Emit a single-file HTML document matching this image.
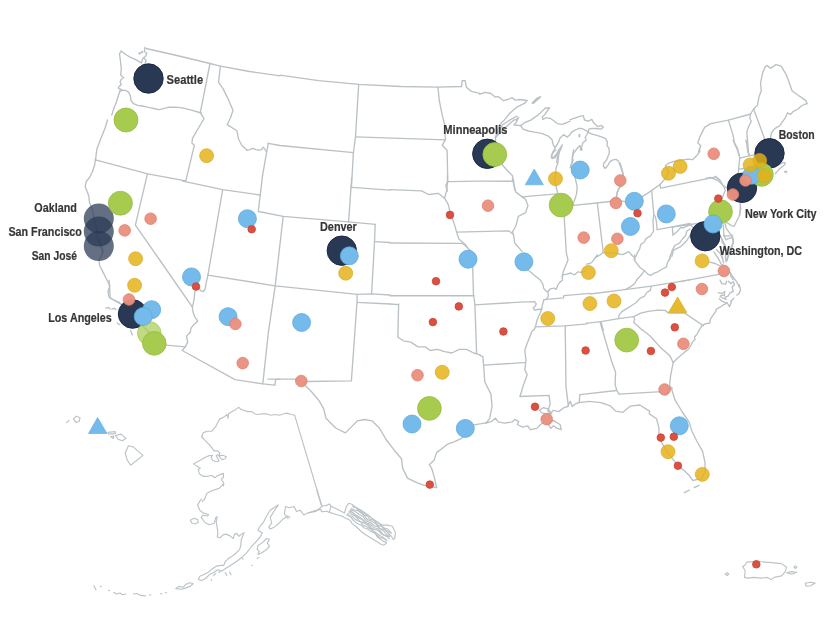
<!DOCTYPE html>
<html lang="en"><head><meta charset="utf-8"><title>City map</title>
<style>
html,body{margin:0;padding:0;background:#fff}
body{width:826px;height:620px;overflow:hidden}
svg{display:block}
.b{fill:none;stroke:#bac1c5;stroke-width:1.35;stroke-linejoin:round;stroke-linecap:round}
.b2{stroke-width:1.15;stroke:#bcc3c6}
.t{font-family:"Liberation Sans",sans-serif;font-weight:700;font-size:13px;fill:#363636;stroke:#363636;stroke-width:.2px;stroke-linejoin:round}
</style></head><body>
<svg width="826" height="620" viewBox="0 0 826 620">
<rect width="826" height="620" fill="#fff"/>
<g class="b">
<path d="M146.1,48.5 176.9,55.5 210,63.5 220.4,66.2 249.5,71.5 280,75.8"/>
<path d="M145,47.3 144.3,51.5 146.8,53.3 145.6,56.3 143.7,57.6 146.2,60.6 145,63.6 145.6,66"/>
<path d="M143.7,57.6 142.5,59.4 141.3,63 139.5,61.8 135.3,59.4 131,57.6 125.6,54.5 121.3,50.9 119.5,53.9 120.1,58.2 120.7,63 121.3,69.1 120.7,75.1 121.9,76.3 123.8,77.5 121.3,79.3 120.1,81.8 121.3,84.8 118.9,86.6 118.3,88.4 121.9,89.6 120.1,90.8"/>
<path d="M138.9,53.3 139.5,52.6 140.2,53.3 139.5,54 138.9,53.3"/>
<path d="M141.3,52.1 141.9,51.5 142.7,52.2 141.9,52.8 141.3,52.1"/>
<path d="M120.1,90.8 125,90.2 128.6,92.1 130.4,95.7 131,100.5 133.5,103.6 137.7,105.4 142.5,106 147.4,107.2 151,107.8 155.8,109 159.5,109.6 164.3,108.4 169.2,107.2 175.2,107.2 182.5,107.8 189.7,109.6 201.2,113"/>
<path d="M120.1,90.8 118.3,95.7 116.5,101.7 114.1,107.8 111.7,115.1"/>
<path d="M107.4,119.9 105.4,127.2 100.6,139.3 96.9,149 95.5,159.9"/>
<path d="M95.4,159.1 94.8,164.5 92.4,171.8 90,176.6 86.3,181.5 85.1,186.3 87,191.2 88.8,196 89.5,202.4 92.3,209.8 94.1,217.3 96,225.6 96.9,232.1 97.8,239.5 100.6,246.9 102.5,250.7 101.5,256.2 98.8,259.9 99.7,265.5 103.4,272.9 107.1,280.3 109.9,285.9 108,291.5 109,297 113.6,299.8 118.2,302.6 121.9,304.5 125.9,313"/>
<path d="M97.8,239.5 100.6,241.4 102.5,248.8 103.4,252.5"/>
<path d="M95.5,159.9 147.8,173.9 185.8,180.9"/>
<path d="M210,63.5 200.3,112.6"/>
<path d="M200.3,112.6 204,118.7 201.1,123.5 192.6,138.1 191.9,142.9 194.3,145.3 185.8,180.9"/>
<path d="M220.4,66.2 218.5,82.4 222.9,88.4 227.7,98.1 233,110.2 230.6,117.5 227.2,124.7 231.3,127.2 236.9,130.8 238.6,139.3 241.7,145.3 247.1,150.2"/>
<path d="M247.1,150.2 250,149.6 252.4,148.4 256.1,149.6 259.7,150.2 261.5,149.6 263.3,147.2 265.1,149.6 266.7,151.8"/>
<path d="M268.2,143.3 266.7,151.8 262.6,175.2"/>
<path d="M280,75.1 318.7,80.7 358.7,84.3 401.1,86.5 437.9,87.2 461.6,86.5 462.1,80.7 465.2,80.7 466.4,87.2 471.3,91.3 480,93.3"/>
<path d="M358.7,84.3 355.5,136.9 353.4,152.6 351.4,187.7"/>
<path d="M268.2,143.3 280,145.5 353.4,152.6"/>
<path d="M355.5,136.9 445.4,139.8"/>
<path d="M437.9,87.2 439.3,100.5 441.7,112.6 444.6,124.7 445.4,139.8 442.2,145.3 447.1,150.2 447.8,181.6 445.9,185.3 447.1,191.3"/>
<path d="M447.8,181.6 480,181.2 512.4,181.2"/>
<path d="M479.6,94.4 484.8,92.3 490.9,93.5 495.1,97.1 498.2,96.5 503.6,100.7 507.8,99.5 512.1,97.7 515.1,100.1 520,99.5 527.2,100.5 524.8,103.2 516.3,107.4 510.3,112.8 504.2,120.1 499.4,125 496.9,133.4 495.4,137.4"/>
<path d="M495.4,137.4 499.4,133.4 504.2,128.6 509.1,124.3 513.9,120.1 516.3,119.5 518.7,117.4 515.7,123.1 513.9,125 520.6,125.6 524.8,122.5 530.8,120.1 536.9,115.9 540.5,112.8 545.4,108 549.6,108 547.2,111 544.2,115.3 542.3,116.5 543,119.5 546,117.7 550.2,118.3 553.8,120.7 557.5,123.7 562.3,124.3 567.2,122.5 570,121.1"/>
<path d="M520.6,125.6 523,129.2 528.4,131 534.5,132.2 541.7,133.4 547.8,135.8 552,139.5 553.2,144.9 554.5,147 555.7,146.7"/>
<path d="M570.3,134.4 567.2,137.1 563.5,134.6 559.9,138.3 558.7,141.9 555.7,146.7 552.6,152.8 551.4,155.8 552.6,158.2 555.1,157.6 558.7,150.4 562.3,144.9 560.5,149.8 557.5,156.4 556.6,162.5"/>
<path d="M556,150 553,152.4 551.2,157.3 552.4,158.5 556,154.8 559.1,150"/>
<path d="M559.1,150 558.5,157.3 557.8,163.3 556,168.2 555.7,174.2 554.8,181.5 556,186.3 557.2,191.2 557.8,194.8 559.1,198.4 565.1,203.3 573,203.9"/>
<path d="M532.1,102.9 536.9,98.3 540.5,96.5 539.9,97.7 536.3,100.7 533.3,103.4 532.1,102.9"/>
<path d="M570,119.7 574.8,118.2 579.7,116.3 583.3,115.7 584.5,120 588.2,121.2 591.8,119.4 594.2,123.6 597.8,126.6 601.5,125.4 603.3,127.2 600.9,129.1 596,128.5 591.8,128.5 588.8,129.1 588.2,132.1 585.7,130.3 582.1,128.5 578.5,128.5 573.6,130.9 570.4,133.4"/>
<path d="M588.2,132.1 586.9,134.5 585.1,137.5 586.3,140 582.7,143 581.5,147.8 582.1,149.9 580.7,150.2 579.9,145.4 576.7,149 573.6,153.3 572.2,158.1 571.8,164.2 570,167.8"/>
<path d="M573.6,150 572.4,156.1 573,160.9 570.6,165.7 572.4,169.4 574.2,174.2 575.4,179.1 577.2,186.3 576.6,193.6 574.8,199.6 573,203.9"/>
<path d="M579,135.1 579.7,134.5 579.9,136.3 579.2,136.9 579,135.1"/>
<path d="M588.2,132.1 591.2,133.9 596,135.1 601.5,136.9 605.7,138.7 607.5,142.4 606.9,145.4 609,148.4 609.3,153.3 607.5,157.5 606.3,160.5 603.9,163 603.3,166 605.1,168.4 607.5,166 610,161.7 613,159.9 616,159.3 618.4,161.1 620.2,165.4 622.1,171.4 623.3,175.1"/>
<path d="M620.2,163.3 622,169.4 623.2,174.2 622,181.5 619.6,187.5 617.2,192.4 616.6,197.2"/>
<path d="M522,197 530,196.2 557.2,193.8"/>
<path d="M573,203.9 573.6,205.4 596.6,203 609.9,201.5 616.6,197.2"/>
<path d="M495.4,137.4 496,146.5 497.8,156.2 502.6,165.2 507.5,170.7 512.3,175.5 513.5,180.4 514.7,190.1"/>
<path d="M495.4,137.4 502.6,124.7 512.3,118.6 517.2,116.2"/>
<path d="M616.4,197.8 621.2,200.8 627.3,202.1 634.5,199.6 642.4,196.6 651.5,190.6 660,184.5 664.8,179.1 669,171.8 666,168.2 665.4,165.7 668.4,163.3 673.3,161.5 680.5,160.3 687.8,159.1 692.6,159.7 697.5,154.8 699.9,151.2 699.3,148.8"/>
<path d="M660,184.5 660.6,188.1 716.2,176.9 720,180.3"/>
<path d="M753.6,109 757.5,105.2 759,96.8 761.3,90.7 760.5,83 762.8,72.3 765.1,66.9 767.4,65.4 770.5,68.4 775.9,64.6 781.2,66.1 785.8,73.8 788.9,81.5 792,90.7 798.1,95.3 801.9,97.6 805.8,100.6 807.3,103.7 804.2,104.5 801.2,106 798.1,109 793.5,111.3 790.4,114.4 787.4,112.9 785.1,118.2 782.8,121.3 779.7,125.9 776.6,127.4 773.6,129.7 771.3,133.6 770.5,138.2 769.7,140.5"/>
<path d="M753.6,109 758.2,121.3 762.1,132 764.4,138.2 765.9,142.8"/>
<path d="M753.6,109 750.6,114 728.4,120.1 710.7,123.6 704.6,127.4 700,136.6 697.7,142.8 700.8,145.8 698.5,152"/>
<path d="M750.6,114 749.8,118.2 751.3,121.3 748.3,127.4 746.8,132 747.5,139.7 748.7,155"/>
<path d="M745.9,140 747.1,146.1 747.7,152.1 750.1,155.7"/>
<path d="M728.4,120.1 730.7,127.4 733,135.1 734.5,142.8 737.6,148.9 739.1,155"/>
<path d="M733.2,140 735,144.8 737.4,149.7 739.2,155.7 739.8,158.2 738.6,169.1 738,176.3"/>
<path d="M739.8,158.2 750.1,155.7 756.2,154.8"/>
<path d="M738.6,169.1 744.1,168.5"/>
<path d="M773.1,167.8 778,165.4 782.8,162.4 785.2,163 784.6,164.8 781.6,167.2 779.2,169.1 776.7,172.1 775.5,173.5"/>
<path d="M784.6,171.7 786.2,171.2 786.7,172.7 784.6,171.7"/>
<path d="M705.9,178.5 710.7,177.5 718,180.4 722.9,185.3 730.1,190.1"/>
<path d="M715,176.3 719.8,180 723.5,186 725.3,190.8 723.5,194.5 722.3,198.1"/>
<path d="M740.4,204.2 740.1,210.2 739.8,215.1"/>
<path d="M147.5,173.6 135.4,225.1 159.7,260 192.4,307.2"/>
<path d="M207.9,275.1 205.9,284.2 205.1,289.1 203.3,291.5 200.8,290.9 199,288.5 194.8,291.5 194.2,298.7 193,304.8 192.4,307.2 193,312.1 194.8,316.9 197.8,321.1 193.6,324.8 191.2,327.8 190,332.6"/>
<path d="M106,308 108.5,307.4 110,309"/>
<path d="M112,309 114.5,308.3 116,309.6"/>
<path d="M117.1,323 119.7,324.7"/>
<path d="M130.7,330.7 132.4,334.9"/>
<path d="M182.7,181.2 222.7,189.7 260.2,195"/>
<path d="M262.6,175.2 258.3,211.5 283.2,216.3 348.6,221.9 375.2,224.3"/>
<path d="M222.7,189.7 207.9,275.2"/>
<path d="M283.2,216.3 275.2,285.8 268.7,330.1"/>
<path d="M207.9,275.2 275.2,285.8 357.1,294.3 371.6,293.8 390,295"/>
<path d="M375.2,224.3 374.5,241.7 371.6,293.8"/>
<path d="M374.5,241.7 390,242.5"/>
<path d="M351.7,177.6 348.6,221.9"/>
<path d="M351.7,187.3 390,190.2"/>
<path d="M357.1,294.3 357.1,302.3 390,304"/>
<path d="M390,189.7 421.5,190.9 428.7,194.5 438.4,193.3 444.5,198.2 448.1,204.2 450.5,213.9 454.2,223.6 456.6,232.1 459,239.3 465.1,244.2 467.5,247.8 472.3,252.6 473.5,295.7"/>
<path d="M444.5,198.2 446.9,189.7 447.4,181.9 447.4,175.2"/>
<path d="M456.6,232.1 508.6,230.8 513.5,234.5"/>
<path d="M512.3,178.8 515.9,192.1 525.6,199.4 528,205.4 525.6,212.7 518.3,216.3 515.9,226 512.3,232.1 513.5,234.5 514.7,243 522,251.4"/>
<path d="M523.6,267.6 529.7,271.2 534.5,275.4 540,279.7 543,284.5 543.6,288.2 546,291.2 547.8,291.8 548.5,296 546.6,299.1 544.2,299.7 543.6,300.3 542.4,305.1 541.8,308.7 540,313.6 538.2,317.2 536.9,320.8 535.7,325.7 534.5,329.3"/>
<path d="M547.8,291.8 550.3,288.8 553.9,288.2 556.3,289.4 557.5,285.7 560,282.1 562.4,280.3 562.4,274.8 567.2,274.2 570.8,273 574.5,274.8 578.1,271.8 581.7,272.4 585.4,271.2"/>
<path d="M474.6,304.9 520,302.1 534.5,301.7 536.3,303.9 535.1,306.3 533.3,308.1 534.5,310 541.8,309"/>
<path d="M544.2,299.7 563.6,297.8 563.8,295.7 590,293.4"/>
<path d="M390,243 462.6,243.4 467.5,247.8"/>
<path d="M390,295.7 473.5,295.7"/>
<path d="M390,304 398.7,304.7"/>
<path d="M563.6,206.6 566.3,252.6 568,259.9 563.1,272 562.4,276.9"/>
<path d="M597.3,203.2 603.1,251 602.7,252.8"/>
<path d="M616,198.3 617.2,192.3 619.1,188 622.1,185.6"/>
<path d="M651.7,190.8 653.8,214.7 655.4,216.7 656.3,221.3 657.2,229.6"/>
<path d="M657.2,229.6 672.3,226.8 690,223.5"/>
<path d="M672.3,227.2 720.8,220 725.6,218.7"/>
<path d="M672.3,226.8 672.9,235.2 677.2,231.6 680.8,227.4 683.2,228 686.9,225.6 690,224.3"/>
<path d="M686.9,226 690.5,224.8 694.1,228.4 697.7,232.1"/>
<path d="M653.8,214.7 653,221.3 653.6,231 650.5,235.8 646.3,238.3 643.9,242.5 640.8,244.3 639.6,249.2 637.2,252.8 636,256.4 634.8,257.6 631.8,255.2 628.7,251.6 626.3,252.8 622.7,254.6 619.1,254 614.2,252.8 608.2,252.8 603.1,252.8 599.7,255.2 595.4,257.6"/>
<path d="M597.3,255 595.4,257.4 592.4,261.7 590,263.5 586.4,264.1"/>
<path d="M634.8,257.6 635,260.1"/>
<path d="M634.8,255 634.2,259.8 637.8,264.7 640.8,268.3 644.5,270.7"/>
<path d="M644.5,270.7 648.1,274.4 650.5,275.3 654.2,273.2 657.8,271.9 661.4,269.5 666.3,267.1 667.5,262.3 669.9,258.6 670.5,255"/>
<path d="M690,229.2 686.9,231 685.6,235.8 682,239.5 679.6,243.1 674.7,245.5 672.3,250.4 669.9,257.6 669.3,260.1"/>
<path d="M694.1,228.4 686.9,240.5 680.8,246.6 673.5,250.2 671.8,256.3"/>
<path d="M644.5,270.7 640.8,275.6 637.2,279.2 634.8,283.5 630,287.1 625.1,289.5"/>
<path d="M590,294 625.1,289.7 651.1,286.2 690,279.8"/>
<path d="M680,281.6 718.7,274.3"/>
<path d="M651.1,286.2 650.5,290.1 646.9,292.5 644.5,296.2 639.6,298.6 636,302.8 631.2,305.8 626.3,308.9 621.5,311.9 619.1,314.9 618.5,318.6"/>
<path d="M586.4,323.2 590,322.8 600.9,321.6 618.5,318.6 633.6,316.7"/>
<path d="M600.9,321.6 603.3,330.1"/>
<path d="M633.6,316.7 640.8,313.1 648.1,311.3 657.8,310.1 665.1,310.4 668.7,313.1 684.4,312.9 703.4,325.8"/>
<path d="M633.6,316.7 634.8,319.8 633.6,322.2 638.4,326.4 642.1,330.1"/>
<path d="M740.2,203.2 740.8,209.2 739,216.5 736.6,221.3 734.2,226.2 731.2,225.6 728.7,223.7 726.3,222.5"/>
<path d="M725.1,223.7 726.3,228.6 730,233.4 732.4,235.8 733.6,241.9 731.8,248 730,252.8 727.5,257.6 726.3,260.1"/>
<path d="M723.3,225 723.9,235.8 732.4,235.8"/>
<path d="M720.3,235.8 722.7,240.7 725.1,245.5 723.9,250.4 721.5,255.2 722.7,258.8"/>
<path d="M723.6,235 726,239.8 728.4,238.6 732.1,237.4 733.3,242.3 730.8,248.3 728.4,254.4 727.2,260.4 726,261.6 725.4,256.8 726.6,250.7 724.8,245.9 722.4,242.3 721.2,237.4"/>
<path d="M713.9,251.9 716.3,255.6 718.7,259.2 721.2,264.1 723.6,265.3"/>
<path d="M709.7,262.2 715.1,263.5 720,265.9 722.4,267.7"/>
<path d="M716.3,249.5 720,253.2 722.4,258 723.6,262.8"/>
<path d="M730.2,272.5 733.3,277.4 736.9,282.2 739.3,287.1"/>
<path d="M739.3,284.8 740.5,289.7 739.3,293.3 736.9,295.1"/>
<path d="M733.9,298.2 730.8,301.2 731.5,301.8 729.6,306.6 727.2,303 723.6,304.8 720,307.2 716.3,309.1 715.7,311.5 712.7,315.7 710.3,319.3 709.7,323 706,323.6 702.4,325.4 699.4,329.6 696.9,334.5 694.5,336.9 695.1,339.3 692.7,341.7 690.9,345.4 689.1,348.4 686.7,350.8"/>
<path d="M718.1,292.7 722.4,293.3 724.8,291.5 724.2,295.7 721.8,295.1 720,296.3 723,298.2 726,299.4 725.4,296.9 727.8,296.3 730.2,292.7 733.3,291.5 732.1,287.3 734.5,284.8 733.3,281.8 730.8,283.6 728.4,281.2"/>
<path d="M719.3,298.8 721.8,301.2 724.8,302.4 727.2,303"/>
<path d="M720,280 721.8,283.6 725.4,284.2 726.6,281.2"/>
<path d="M730.2,272.5 730.8,276.2 733.3,279.8"/>
<path d="M190.2,332.6 186.5,336 187.7,342.1 185.3,346.9"/>
<path d="M166,345.2 185.3,346.9 182.2,350.5 235,379.6 262.8,383.9 274.9,385.2 275.6,379.6 280,379.1"/>
<path d="M268.6,330.2 262.8,383.9"/>
<path d="M109.1,280.3 110.3,298.5 118.7,302.1 128.4,311.8 143,326.3 152.6,336 166,345.2"/>
<path d="M398.6,304 397.9,337.2 403.5,340.8 410.8,342.1 418,346.9 425.3,346.9 430.1,350.5 437.4,349.3 444.6,351.7 451.9,353 459.2,349.3 466.4,349.3 473.7,353 480,354.9"/>
<path d="M473.7,295.3 474.9,304.5 476.6,353"/>
<path d="M357,302.1 351.4,380.8 306.6,381.5 304.2,384.4"/>
<path d="M267.9,379.1 295.7,379.1 304.2,384.4 311.5,391.7 318.7,400.2 323.6,408.6 326,418.3 335.7,428 345.4,432.9 352.6,425.6 357.5,420.8 364.7,419.5 372,420.8 379.3,428 386.5,440.1"/>
<path d="M534.2,329.2 532.1,331.2 527.2,343.3 524.8,350.5 526,360.2 524.8,369.9 527.2,374.7 523.6,384.4 520,396.5"/>
<path d="M483.6,365.1 524.8,362.6"/>
<path d="M480,355.4 482.9,356.6 483.6,365.1 484.8,382 490.9,394.1 492.1,406.2 489.7,418.3 486.1,423.2"/>
<path d="M520,396.5 549,395.3 550.2,403.8 547.8,411.1 551.7,414"/>
<path d="M485.9,423.2 491.6,421.4 495.5,418.1 498.1,421.9 504.5,423.2 512.3,421.9 514.8,419.4 518.7,421.4 517.4,424.5 522.6,427.1 527.7,425.8 530.3,429.7 536.8,428.4 540.6,424.5 543.2,422.5 553.5,420.6 560,424.5 561.3,429.7 557.4,428.4 553.5,425.8 551,428.4 548.4,424.5 549.7,419.4 549.7,414.2 553.5,410.3 558.7,411.6 563.9,407.7 567.7,406.5 570.3,401.3 572.1,406.5 575.5,403.9 579.1,402.3"/>
<path d="M539.4,410.3 543.2,407.7 548.4,409 551,412.9 547.1,414.2 541.9,412.9 539.4,410.3"/>
<path d="M579.3,402.6 589,401.4 601.1,402.6 610.8,406.2 615.6,411.1 622.9,412.3 630.1,406.2 639.8,405 649.5,411.1"/>
<path d="M565.2,325.8 566,386.9 568.4,406.2"/>
<path d="M536.2,326.8 565.2,325.8 587,323.9"/>
<path d="M600.1,322.2 612,362.6 615.6,372.3 615.1,384.4 616.8,390.5 619.2,394.1"/>
<path d="M579.8,394.6 579.3,402.6"/>
<path d="M579.8,394.6 616.8,390.5"/>
<path d="M619.2,394.1 661.6,391.7 666.4,394.1 668.9,389.3 672.5,388.1"/>
<path d="M642.5,330 650.2,336 659.9,346.9 669.6,355.4 673.2,362.6"/>
<path d="M686.5,350.5 678.1,357.8 673.2,362.6 670.8,374.7 669.6,384.4 670.8,389.3"/>
<path d="M671.1,387.3 674.7,399.4 682,411.5 689.3,422.4 691.7,430.8 696.5,440.5 702.6,451.4 705,462.3 705,472 701.4,479.3 697.7,479.3 692.9,480.5 689.3,475.6 684.4,470.8 678.4,466 673.5,459.9 667.5,452.6 662.6,444.2 659,436.9 659,428.4 656.6,418.7 649.3,413.9 649.6,411"/>
<path d="M684.4,492.6 689.3,490.2"/>
<path d="M694.1,487.7 699,485.3"/>
<path d="M436.6,487.7 434.2,476.9 431.7,468.4 429.3,464.7 434.2,459.9 436.6,452.6 441.4,449 447.5,444.2 454.7,441.7 462,438.1 474.1,424.8 481.4,423.6 486.7,422.6"/>
<path d="M386.5,440 394.2,450.2 401.5,458.7 402.7,468.4 407.5,478.1 417.2,482.9 424.5,485.3 436.6,487.7"/>
</g>
<g class="b b2">
<path d="M73.4,418.6 76.3,416.2 80,417.8 79.2,421.5 75.8,422.4 73.4,418.6"/>
<path d="M66.6,422.7 69.1,420.3"/>
<path d="M107.8,432.4 115.1,431.6 115.5,433.6 109,434.1 107.8,432.4"/>
<path d="M115.5,435.5 121.1,434.1 126,438.4 122.3,440.8 118,439.2 115.5,435.5"/>
<path d="M110.7,436.7 113.8,436 113.4,438.4 110.7,436.7"/>
<path d="M128.4,445.7 133.2,446.9 142.9,455.4 136.9,460.2 130.8,465.1 127.2,460.2 125.2,453 128.4,445.7"/>
<path d="M201.7,437 203.2,432.7 206.8,431.2 211.9,431.2 215.5,426.9 217.7,422.5 219.9,418.9 223.5,417.4 227.1,414.5 227.9,418.2 228.6,413.8 232.2,411.6 235.8,409.4 238.8,407.3 240.9,409.4 243.8,410.2 247.5,411.6 251.8,411.6 254.7,413.8 257.6,414.5 262,413.8 266.4,413.8 270.7,415.3 275.1,414.5 279.4,415.3 283.8,413.8 287.4,413.1 291.1,414.5 294.7,415.3"/>
<path d="M294.7,415.3 322,506.5"/>
<path d="M322,506.5 315.9,511.4 308.6,512.6 303.8,515 300.2,510.2 296.5,511.4 294.1,506.5 289.3,507.7 285.6,506.5 284.4,513.8 288.1,518.6"/>
<path d="M290,517.4 287.7,516 283.3,518.9 279,523.2 274.6,526.9 270.2,529.1 268.8,526.9 271.7,523.2 270.2,517.4 274.6,510.2 278.2,505.1"/>
<path d="M201.7,499.3 200.5,500 197.6,505.1 199.8,510.2 203.4,513.1 208.5,514.5 207.8,516 202.7,515.3 201.2,517.4 204.9,522.5 209.2,524.7 214.3,523.2 215.8,517.4 217.2,516.7 216.2,521.8 217.2,527.6 217.9,533.4 217.2,537 220.1,537.8 223,534.9 225.9,534.1 229.6,535.6 233.2,538.5 234.6,534.1 236.8,533.4 239,536.3 242.6,533.4 244.1,532.7 241.2,540 240.9,545 239.7,549.4 236.1,553 232.5,555.9 228.1,558.8 225.2,561.7 223.8,565.4 220.8,565.4 216.5,566.1 212.1,569 207.8,572.6 203.4,574.8 199.8,576.3 198.3,579.2 201.2,580.6 205.6,578.5 209.2,574.8 213.6,572.6 217.9,569.7 221.6,571.2 225.9,568.3 229.6,566.1 233.9,563.2 238.3,560.3 242.6,556.7 247,552.3 251.4,546.5 255.7,542.1 260.1,537 262.3,532.7 257.9,530.5 260.1,526.2 263.7,521.8 266.6,516 270.2,510.2 274.6,507.3 278.2,505.1"/>
<path d="M190.3,520.3 194,518.2 197.6,519.6 198.3,522.5 195.4,524 191.8,523 190.3,520.3"/>
<path d="M257.2,549.4 257.9,545.8 263,542.1 266.6,538.5 269.5,539.2 267.3,542.9 269.5,546.5 265.9,550.1 261.5,553 257.9,554.5 259.3,551.6 257.2,549.4"/>
<path d="M175.8,588.6 178.7,586.4 183.1,587.2 186,584.3 189.6,582.8 193.2,583.5 190.3,586.4 186,587.9 181.6,589.3 175.8,588.6"/>
<path d="M225.2,572.6 226.7,575.5"/>
<path d="M229.6,571.9 231,574.8"/>
<path d="M211.1,579.6 211.8,580.3"/>
<path d="M251.8,565.1 252.5,565.7"/>
<path d="M242.3,558.5 243.1,559.1"/>
<path d="M257.2,558.4 258.9,557.5"/>
<path d="M213.6,575.5 215.8,573.4"/>
<path d="M218.7,572.6 220.1,571.5"/>
<path d="M201.7,437 205.3,440.7 209,444.3 211.9,447.9 214.1,450.8 217.7,450.8 219.9,453 219.1,455.9 222.8,455.2 226.4,456.7 225,458.8 222,459.6 219.9,457.4 217.7,454.5 216.2,455.9 219.1,461 216.2,461.7 212.6,460.3 211.2,457.4 212.6,455.2 208.2,455.9 203.9,458.1 200.3,460.3 195.9,462.5 193.4,463.9 196.6,466.1 200.3,468.3 198.1,469.7 199.5,474.1 203.2,476.3 207.5,476.3 211.9,475.5 214.8,477.7 217.7,475.5 221.3,474.1 223.5,473.4 223.5,477 221.3,479.2 223.5,482.8 223.5,485.7"/>
<path d="M223.9,483.5 219.1,488.4 211.8,490.8 206.9,493.2 204.5,499.3 202.1,501.7"/>
<path d="M133.3,594 136.9,593.5 140.5,595.4 145.4,595.9"/>
<path d="M113.9,592.3 116.3,594 120,593 122.4,594.7 126,594"/>
<path d="M165.5,592.3 166.4,592.8"/>
<path d="M160.6,593.5 161.6,594"/>
<path d="M149.7,594.7 150.7,595.2"/>
<path d="M108.6,590.3 109.5,590.8"/>
<path d="M94,585.7 96,589.9"/>
<path d="M100.3,586.2 101.3,586.7"/>
<path d="M316.7,490 321.5,505.7 325.7,505.7 329.4,503.9 331.2,506.3 330,509.4 329.4,512.4"/>
<path d="M308.8,513 314.8,510.6 320.9,509.4 321.5,511.8 326.9,511.2 329.4,512.4 335.4,514.2 341.5,516 346.3,518.5 350,520.3 352.4,523.9 357.2,527.5 360.8,531.2 365.7,534.8 370.5,537.8 375.4,540.8 381.4,544.5 383.8,545.1 386.3,543.3"/>
<path d="M331.2,506.3 337.8,509.4 344.5,513 346.3,506.9 348.7,503.3 352.4,504.5 354.8,506.9 360.8,510 366.9,514.2 373,519.1 377.8,522.7 382.6,525.1 387.5,525.1 392.3,526.3 395.4,532.4 394.7,538.4 393.5,539.6 391.1,536 388.7,533.6"/>
<path d="M346.7,514.9 349.3,515.9 351.3,517.7 353.3,520.3 356,522.4 358.8,524.2 361.4,525.1 364.3,528 367.3,528.8 370.7,531.4 373.9,532.6 375.8,534.3 377.4,537.3 379.8,538.5 382.9,541.1 386.4,542.4"/>
<path d="M347.8,513.4 349.3,515.7 352.4,516.3 354.6,518.8 357.7,520.7 360.6,521.8 363,525 366.3,526.6 370,528.7 372.7,530 374.2,532.5 377.1,535.3 379.7,537.5 383.7,538.4 386.8,540.2"/>
<path d="M348.8,511.9 351.6,514.2 354.7,515.7 357.7,518.8 360.3,521.8 364.1,522.9 367.9,525.2 369.8,527.7 372.4,530.5 375.4,532.2 377.4,534 380.7,536.1 383.4,537.4 386.4,540.3"/>
<path d="M349.5,511 353.2,513 355.9,516.3 358.7,518.1 362.9,519.4 364.1,522.4 366.5,524 369.8,525.3 371.4,528.1 374.6,529.4 378.2,530.4 380.8,533.4 384,535.2 386.3,536.3 389.5,538.7"/>
<path d="M350.1,510.1 352.4,512.5 355.4,514.7 357.6,515.9 360.1,517.3 361.7,519.4 364.1,520.8 366.6,522.8 370.7,524.2 372.5,526.4 375.2,528 378,528.7 381.1,532 383.4,534.6 385.9,535.7 388.9,536.5"/>
<path d="M350.5,509.6 354.7,511.2 356.9,512.8 358.9,514.2 362.9,516.2 365.3,519.5 367.7,521.5 371.4,523.1 374.4,525.8 377.4,526.6 381,529.1 384.2,531.5 386.7,534.8 389.7,536.6"/>
<path d="M351.3,508.4 354.1,509.7 358.1,510.7 360.8,512.7 364.4,515.2 366,518.3 368.3,520 371.2,520.9 374.9,523 377.4,525.3 380,528.6 384.1,529.4 387.1,532 389.2,534.9"/>
<path d="M352.6,506.7 356.7,507.9 358.6,510.8 362.5,512.7 364,515.4 367.2,515.6 369.6,519.3 373.9,520.2 376.2,523.4 378.8,525.9 381.9,525.8 384.3,528.8 387.7,531.4 391.6,533.1"/>
<path d="M353.3,505.6 355.8,507.4 358.7,509.5 361.2,511.6 365,513.7 368,515.2 371.2,517.9 374.8,520.3 377.7,522.3 379.6,523.8 381.3,526.2 384.8,528.3 388.3,529.3 390.6,532"/>
<path d="M746.7,562.1 756.1,561.4 768.5,562.4 781.5,563.6 786.6,567.2 785.2,571.6 781.5,575.9 774.3,577.4 771.4,579.6 767,577.4 761.2,578.1 753.9,577.4 748.1,578.1 744.5,577.4 745.2,570.8 742.6,566.5 745.2,565 746.7,562.1"/>
<path d="M725.3,574 727.1,572.6 728.8,574 727.1,575.5 725.3,574"/>
<path d="M793.9,567.2 795.3,565.9 796.9,567.2 795.3,568.5 793.9,567.2"/>
<path d="M786.9,572.6 791.7,571.6 796.8,572.3 791.7,574.2 786.9,572.6"/>
<path d="M805.2,583.2 810.6,582.2 815.2,583.1 810.6,585.7 806.2,586.2 805.2,583.2"/>
</g>
<g>
<circle cx="148.5" cy="78.5" r="14.7" fill="#293853" fill-opacity="1" stroke="#1b2947" stroke-width="1"/>
<circle cx="487.3" cy="153.8" r="14.7" fill="#293853" fill-opacity="1" stroke="#1b2947" stroke-width="1"/>
<circle cx="769.5" cy="153.3" r="14.7" fill="#293853" fill-opacity="1" stroke="#1b2947" stroke-width="1"/>
<circle cx="742" cy="187.8" r="14.7" fill="#293853" fill-opacity="1" stroke="#1b2947" stroke-width="1"/>
<circle cx="705.3" cy="236.2" r="14.7" fill="#293853" fill-opacity="1" stroke="#1b2947" stroke-width="1"/>
<circle cx="341.8" cy="250.7" r="14.7" fill="#293853" fill-opacity="1" stroke="#1b2947" stroke-width="1"/>
<circle cx="132.6" cy="314" r="14.3" fill="#293853" fill-opacity="1" stroke="#1b2947" stroke-width="1"/>
<circle cx="98.8" cy="218.5" r="15" fill="#293853" fill-opacity="0.72"/>
<circle cx="98.8" cy="231.6" r="15" fill="#293853" fill-opacity="0.72"/>
<circle cx="98.8" cy="246.1" r="15" fill="#293853" fill-opacity="0.72"/>
<circle cx="126" cy="120" r="12" fill="#a6cb4e" fill-opacity="1" stroke="#97be3f" stroke-width="0.8" stroke-opacity="1"/>
<circle cx="120.4" cy="203.2" r="12" fill="#a6cb4e" fill-opacity="1" stroke="#97be3f" stroke-width="0.8" stroke-opacity="1"/>
<circle cx="494.8" cy="154.5" r="11.9" fill="#a6cb4e" fill-opacity="1" stroke="#97be3f" stroke-width="0.8" stroke-opacity="1"/>
<circle cx="561.1" cy="205.1" r="11.9" fill="#a6cb4e" fill-opacity="1" stroke="#97be3f" stroke-width="0.8" stroke-opacity="1"/>
<circle cx="720.5" cy="211.7" r="11.9" fill="#a6cb4e" fill-opacity="1" stroke="#97be3f" stroke-width="0.8" stroke-opacity="1"/>
<circle cx="761.6" cy="174.6" r="11.7" fill="#a6cb4e" fill-opacity="1" stroke="#97be3f" stroke-width="0.8" stroke-opacity="1"/>
<circle cx="626.7" cy="340.1" r="11.9" fill="#a6cb4e" fill-opacity="1" stroke="#97be3f" stroke-width="0.8" stroke-opacity="1"/>
<circle cx="429.4" cy="408.4" r="11.9" fill="#a6cb4e" fill-opacity="1" stroke="#97be3f" stroke-width="0.8" stroke-opacity="1"/>
<circle cx="149.3" cy="333.3" r="11.8" fill="#a6cb4e" fill-opacity="0.7" stroke="#97be3f" stroke-width="0.8" stroke-opacity="0.7"/>
<circle cx="154.3" cy="343.4" r="11.8" fill="#a6cb4e" fill-opacity="1" stroke="#97be3f" stroke-width="0.8" stroke-opacity="1"/>
<circle cx="580.2" cy="170" r="9" fill="#74bbeb" fill-opacity="1" stroke="#5da9dd" stroke-width="0.8" stroke-opacity="1"/>
<circle cx="191.5" cy="276.9" r="9" fill="#74bbeb" fill-opacity="1" stroke="#5da9dd" stroke-width="0.8" stroke-opacity="1"/>
<circle cx="247.4" cy="218.7" r="9" fill="#74bbeb" fill-opacity="1" stroke="#5da9dd" stroke-width="0.8" stroke-opacity="1"/>
<circle cx="349.3" cy="255.8" r="9" fill="#74bbeb" fill-opacity="1" stroke="#5da9dd" stroke-width="0.8" stroke-opacity="1"/>
<circle cx="228.1" cy="316.7" r="9" fill="#74bbeb" fill-opacity="1" stroke="#5da9dd" stroke-width="0.8" stroke-opacity="1"/>
<circle cx="301.6" cy="322.5" r="9" fill="#74bbeb" fill-opacity="1" stroke="#5da9dd" stroke-width="0.8" stroke-opacity="1"/>
<circle cx="468" cy="259.2" r="9" fill="#74bbeb" fill-opacity="1" stroke="#5da9dd" stroke-width="0.8" stroke-opacity="1"/>
<circle cx="523.9" cy="261.8" r="9" fill="#74bbeb" fill-opacity="1" stroke="#5da9dd" stroke-width="0.8" stroke-opacity="1"/>
<circle cx="634.3" cy="201.3" r="9" fill="#74bbeb" fill-opacity="1" stroke="#5da9dd" stroke-width="0.8" stroke-opacity="1"/>
<circle cx="630.4" cy="226.5" r="9" fill="#74bbeb" fill-opacity="1" stroke="#5da9dd" stroke-width="0.8" stroke-opacity="1"/>
<circle cx="666.3" cy="213.9" r="9" fill="#74bbeb" fill-opacity="1" stroke="#5da9dd" stroke-width="0.8" stroke-opacity="1"/>
<circle cx="713" cy="224" r="9" fill="#74bbeb" fill-opacity="1" stroke="#5da9dd" stroke-width="0.8" stroke-opacity="1"/>
<circle cx="751.8" cy="175.2" r="9" fill="#74bbeb" fill-opacity="1" stroke="#5da9dd" stroke-width="0.8" stroke-opacity="1"/>
<circle cx="151.7" cy="309.7" r="9" fill="#74bbeb" fill-opacity="1" stroke="#5da9dd" stroke-width="0.8" stroke-opacity="1"/>
<circle cx="143.2" cy="316.5" r="9" fill="#74bbeb" fill-opacity="1" stroke="#5da9dd" stroke-width="0.8" stroke-opacity="1"/>
<circle cx="412" cy="424" r="9" fill="#74bbeb" fill-opacity="1" stroke="#5da9dd" stroke-width="0.8" stroke-opacity="1"/>
<circle cx="465.3" cy="428.4" r="9" fill="#74bbeb" fill-opacity="1" stroke="#5da9dd" stroke-width="0.8" stroke-opacity="1"/>
<circle cx="679.3" cy="425.8" r="9" fill="#74bbeb" fill-opacity="1" stroke="#5da9dd" stroke-width="0.8" stroke-opacity="1"/>
<circle cx="206.6" cy="155.7" r="7" fill="#e4b116" fill-opacity="0.83" stroke="#d9a81f" stroke-width="0.8" stroke-opacity="0.83"/>
<circle cx="555.5" cy="178.7" r="7" fill="#e4b116" fill-opacity="0.83" stroke="#d9a81f" stroke-width="0.8" stroke-opacity="0.83"/>
<circle cx="668.5" cy="173.3" r="7" fill="#e4b116" fill-opacity="0.83" stroke="#d9a81f" stroke-width="0.8" stroke-opacity="0.83"/>
<circle cx="680.1" cy="166.5" r="7" fill="#e4b116" fill-opacity="0.83" stroke="#d9a81f" stroke-width="0.8" stroke-opacity="0.83"/>
<circle cx="759.6" cy="160.5" r="7" fill="#e4b116" fill-opacity="0.83" stroke="#d9a81f" stroke-width="0.8" stroke-opacity="0.83"/>
<circle cx="750.1" cy="165" r="7" fill="#e4b116" fill-opacity="0.83" stroke="#d9a81f" stroke-width="0.8" stroke-opacity="0.83"/>
<circle cx="764" cy="175.7" r="7" fill="#e4b116" fill-opacity="0.83" stroke="#d9a81f" stroke-width="0.8" stroke-opacity="0.83"/>
<circle cx="135.6" cy="258.7" r="7" fill="#e4b116" fill-opacity="0.83" stroke="#d9a81f" stroke-width="0.8" stroke-opacity="0.83"/>
<circle cx="134.6" cy="285.3" r="7" fill="#e4b116" fill-opacity="0.83" stroke="#d9a81f" stroke-width="0.8" stroke-opacity="0.83"/>
<circle cx="345.7" cy="273.2" r="7" fill="#e4b116" fill-opacity="0.83" stroke="#d9a81f" stroke-width="0.8" stroke-opacity="0.83"/>
<circle cx="547.8" cy="318.5" r="7" fill="#e4b116" fill-opacity="0.83" stroke="#d9a81f" stroke-width="0.8" stroke-opacity="0.83"/>
<circle cx="589.9" cy="303.6" r="7" fill="#e4b116" fill-opacity="0.83" stroke="#d9a81f" stroke-width="0.8" stroke-opacity="0.83"/>
<circle cx="588.4" cy="272.5" r="7" fill="#e4b116" fill-opacity="0.83" stroke="#d9a81f" stroke-width="0.8" stroke-opacity="0.83"/>
<circle cx="614" cy="301" r="7" fill="#e4b116" fill-opacity="0.83" stroke="#d9a81f" stroke-width="0.8" stroke-opacity="0.83"/>
<circle cx="611.3" cy="250.7" r="7" fill="#e4b116" fill-opacity="0.83" stroke="#d9a81f" stroke-width="0.8" stroke-opacity="0.83"/>
<circle cx="702.1" cy="260.9" r="7" fill="#e4b116" fill-opacity="0.83" stroke="#d9a81f" stroke-width="0.8" stroke-opacity="0.83"/>
<circle cx="442.2" cy="372.3" r="7" fill="#e4b116" fill-opacity="0.83" stroke="#d9a81f" stroke-width="0.8" stroke-opacity="0.83"/>
<circle cx="668" cy="451.7" r="7" fill="#e4b116" fill-opacity="0.83" stroke="#d9a81f" stroke-width="0.8" stroke-opacity="0.83"/>
<circle cx="702.3" cy="474.4" r="7" fill="#e4b116" fill-opacity="0.83" stroke="#d9a81f" stroke-width="0.8" stroke-opacity="0.83"/>
<circle cx="150.6" cy="218.7" r="5.8" fill="#ea917f" fill-opacity="0.97" stroke="#db7f6c" stroke-width="0.8" stroke-opacity="0.97"/>
<circle cx="124.7" cy="230.4" r="5.8" fill="#ea917f" fill-opacity="0.97" stroke="#db7f6c" stroke-width="0.8" stroke-opacity="0.97"/>
<circle cx="129" cy="299.5" r="5.8" fill="#ea917f" fill-opacity="0.97" stroke="#db7f6c" stroke-width="0.8" stroke-opacity="0.97"/>
<circle cx="235.4" cy="324" r="5.8" fill="#ea917f" fill-opacity="0.97" stroke="#db7f6c" stroke-width="0.8" stroke-opacity="0.97"/>
<circle cx="242.7" cy="363.1" r="5.8" fill="#ea917f" fill-opacity="0.97" stroke="#db7f6c" stroke-width="0.8" stroke-opacity="0.97"/>
<circle cx="301.3" cy="381" r="5.8" fill="#ea917f" fill-opacity="0.97" stroke="#db7f6c" stroke-width="0.8" stroke-opacity="0.97"/>
<circle cx="488" cy="205.7" r="5.8" fill="#ea917f" fill-opacity="0.97" stroke="#db7f6c" stroke-width="0.8" stroke-opacity="0.97"/>
<circle cx="583.7" cy="237.6" r="5.8" fill="#ea917f" fill-opacity="0.97" stroke="#db7f6c" stroke-width="0.8" stroke-opacity="0.97"/>
<circle cx="620.3" cy="180.5" r="5.8" fill="#ea917f" fill-opacity="0.97" stroke="#db7f6c" stroke-width="0.8" stroke-opacity="0.97"/>
<circle cx="615.9" cy="203" r="5.8" fill="#ea917f" fill-opacity="0.97" stroke="#db7f6c" stroke-width="0.8" stroke-opacity="0.97"/>
<circle cx="617.4" cy="238.8" r="5.8" fill="#ea917f" fill-opacity="0.97" stroke="#db7f6c" stroke-width="0.8" stroke-opacity="0.97"/>
<circle cx="713.7" cy="153.8" r="5.8" fill="#ea917f" fill-opacity="0.97" stroke="#db7f6c" stroke-width="0.8" stroke-opacity="0.97"/>
<circle cx="745.5" cy="180.5" r="5.8" fill="#ea917f" fill-opacity="0.97" stroke="#db7f6c" stroke-width="0.8" stroke-opacity="0.97"/>
<circle cx="732.9" cy="194.5" r="5.8" fill="#ea917f" fill-opacity="0.97" stroke="#db7f6c" stroke-width="0.8" stroke-opacity="0.97"/>
<circle cx="701.9" cy="289" r="5.8" fill="#ea917f" fill-opacity="0.97" stroke="#db7f6c" stroke-width="0.8" stroke-opacity="0.97"/>
<circle cx="723.9" cy="271" r="5.8" fill="#ea917f" fill-opacity="0.97" stroke="#db7f6c" stroke-width="0.8" stroke-opacity="0.97"/>
<circle cx="417.5" cy="375.2" r="5.8" fill="#ea917f" fill-opacity="0.97" stroke="#db7f6c" stroke-width="0.8" stroke-opacity="0.97"/>
<circle cx="683.4" cy="343.8" r="5.8" fill="#ea917f" fill-opacity="0.97" stroke="#db7f6c" stroke-width="0.8" stroke-opacity="0.97"/>
<circle cx="664.6" cy="389.5" r="5.8" fill="#ea917f" fill-opacity="0.97" stroke="#db7f6c" stroke-width="0.8" stroke-opacity="0.97"/>
<circle cx="546.7" cy="419.2" r="5.8" fill="#ea917f" fill-opacity="0.97" stroke="#db7f6c" stroke-width="0.8" stroke-opacity="0.97"/>
<circle cx="196" cy="286.5" r="3.8" fill="#db5040" fill-opacity="1" stroke="#c84435" stroke-width="0.8" stroke-opacity="1"/>
<circle cx="251.7" cy="229.2" r="3.8" fill="#db5040" fill-opacity="1" stroke="#c84435" stroke-width="0.8" stroke-opacity="1"/>
<circle cx="450" cy="214.9" r="3.8" fill="#db5040" fill-opacity="1" stroke="#c84435" stroke-width="0.8" stroke-opacity="1"/>
<circle cx="436" cy="281.2" r="3.8" fill="#db5040" fill-opacity="1" stroke="#c84435" stroke-width="0.8" stroke-opacity="1"/>
<circle cx="458.8" cy="306.4" r="3.8" fill="#db5040" fill-opacity="1" stroke="#c84435" stroke-width="0.8" stroke-opacity="1"/>
<circle cx="432.9" cy="322.1" r="3.8" fill="#db5040" fill-opacity="1" stroke="#c84435" stroke-width="0.8" stroke-opacity="1"/>
<circle cx="503.4" cy="331.5" r="3.8" fill="#db5040" fill-opacity="1" stroke="#c84435" stroke-width="0.8" stroke-opacity="1"/>
<circle cx="637.5" cy="213.2" r="3.8" fill="#db5040" fill-opacity="1" stroke="#c84435" stroke-width="0.8" stroke-opacity="1"/>
<circle cx="665" cy="292.6" r="3.8" fill="#db5040" fill-opacity="1" stroke="#c84435" stroke-width="0.8" stroke-opacity="1"/>
<circle cx="671.8" cy="287" r="3.8" fill="#db5040" fill-opacity="1" stroke="#c84435" stroke-width="0.8" stroke-opacity="1"/>
<circle cx="718.3" cy="198.6" r="3.8" fill="#db5040" fill-opacity="1" stroke="#c84435" stroke-width="0.8" stroke-opacity="1"/>
<circle cx="674.8" cy="327.3" r="3.8" fill="#db5040" fill-opacity="1" stroke="#c84435" stroke-width="0.8" stroke-opacity="1"/>
<circle cx="585.6" cy="350.5" r="3.8" fill="#db5040" fill-opacity="1" stroke="#c84435" stroke-width="0.8" stroke-opacity="1"/>
<circle cx="650.9" cy="351" r="3.8" fill="#db5040" fill-opacity="1" stroke="#c84435" stroke-width="0.8" stroke-opacity="1"/>
<circle cx="535" cy="406.7" r="3.8" fill="#db5040" fill-opacity="1" stroke="#c84435" stroke-width="0.8" stroke-opacity="1"/>
<circle cx="429.8" cy="484.6" r="3.8" fill="#db5040" fill-opacity="1" stroke="#c84435" stroke-width="0.8" stroke-opacity="1"/>
<circle cx="660.8" cy="437.6" r="3.8" fill="#db5040" fill-opacity="1" stroke="#c84435" stroke-width="0.8" stroke-opacity="1"/>
<circle cx="673.8" cy="436.7" r="3.8" fill="#db5040" fill-opacity="1" stroke="#c84435" stroke-width="0.8" stroke-opacity="1"/>
<circle cx="677.9" cy="465.7" r="3.8" fill="#db5040" fill-opacity="1" stroke="#c84435" stroke-width="0.8" stroke-opacity="1"/>
<circle cx="756.3" cy="564.3" r="3.8" fill="#db5040" fill-opacity="1" stroke="#c84435" stroke-width="0.8" stroke-opacity="1"/>
<path d="M534.2,169 L543.4,184.8 L525.3,184.8Z" fill="#74bbeb" fill-opacity="1" stroke="#5da9dd" stroke-width="0.6" stroke-linejoin="round"/>
<path d="M677.6,296.9 L686.8,312.6 L668.5,312.6Z" fill="#e4b116" fill-opacity="0.9" stroke="#d9a81f" stroke-width="0.6" stroke-linejoin="round"/>
<path d="M97.6,417.5 L107,433.5 L88.5,433.5Z" fill="#74bbeb" fill-opacity="1" stroke="#5da9dd" stroke-width="0.6" stroke-linejoin="round"/>
</g>
<g class="t">
<text transform="translate(166.5,84.2) scale(0.8607,1)">Seattle</text>
<text transform="translate(443.3,133.8) scale(0.8545,1)">Minneapolis</text>
<text transform="translate(778.7,139.3) scale(0.8039,1)">Boston</text>
<text transform="translate(744.9,217.9) scale(0.8328,1)">New York City</text>
<text transform="translate(719.5,255.4) scale(0.8277,1)">Washington, DC</text>
<text transform="translate(320,231.3) scale(0.8371,1)">Denver</text>
<text transform="translate(34.3,212) scale(0.8304,1)">Oakland</text>
<text transform="translate(8.4,236.4) scale(0.8281,1)">San Francisco</text>
<text transform="translate(31.7,260.2) scale(0.7917,1)">San José</text>
<text transform="translate(48.2,322.2) scale(0.8278,1)">Los Angeles</text>
</g>
</svg>
</body></html>
